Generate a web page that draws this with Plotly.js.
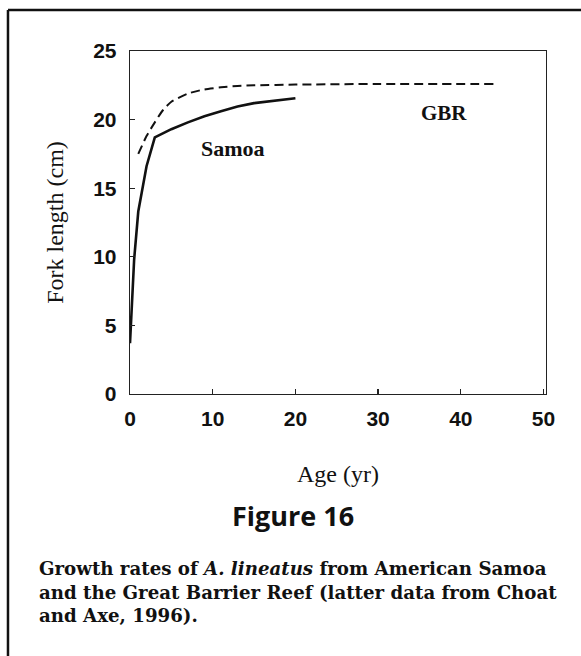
<!DOCTYPE html>
<html>
<head>
<meta charset="utf-8">
<script src="https://cdn.plot.ly/plotly-3.0.1.min.js"></script>
<style>
  html, body { margin: 0; padding: 0; background: #fff; }
  #chart { width: 581px; height: 656px; }
</style>
</head>
<body>
<div id="chart"></div>
<script>
// Samoa growth curve (solid)
const samoaAge = [0, 0.5, 1, 2, 3, 5, 7, 9, 11, 13, 15, 17.5, 20];
const samoaLen = [3.7, 9.8, 13.3, 16.6, 18.7, 19.3, 19.8, 20.25, 20.6, 20.95, 21.2, 21.4, 21.55];
// Great Barrier Reef growth curve (dashed)
const gbrAge = [1, 2, 3, 4, 5, 7, 9, 11, 13, 15, 20, 30, 44];
const gbrLen = [17.5, 18.8, 19.8, 20.7, 21.3, 21.9, 22.2, 22.35, 22.45, 22.5, 22.55, 22.6, 22.6];
// Axis ticks
const xTicks = [0, 10, 20, 30, 40, 50];
const yTicks = [0, 5, 10, 15, 20, 25];
// Text
const seriesLabels = ["Samoa", "GBR"];
const labelPos = [[12.4, 17.9], [38.0, 20.45]];
const figTitle = "Figure 16";
const captionLines = [
  "Growth rates of <i>A. lineatus</i> from American Samoa",
  "and the Great Barrier Reef (latter data from Choat",
  "and Axe, 1996)."
];

const traces = [
  { x: samoaAge, y: samoaLen, type: 'scatter', mode: 'lines', name: 'Samoa',
    line: { color: '#111', width: 2.6, shape: 'linear' } },
  { x: gbrAge, y: gbrLen, type: 'scatter', mode: 'lines', name: 'GBR',
    line: { color: '#111', width: 2, dash: '9px,5px', shape: 'spline', smoothing: 0.6 } }
];

const serif = '"Liberation Serif", "Times New Roman", serif';
const axisCommon = {
  showgrid: false, zeroline: false, showline: true, mirror: true,
  linecolor: '#222', linewidth: 1.3,
  ticks: 'inside', ticklen: 5, tickwidth: 1.3, tickcolor: '#222',
  tickfont: { family: '"Liberation Sans", Arial, sans-serif', size: 21, color: '#111', weight: 'bold' },
  automargin: false, fixedrange: true
};

const annotations = [
  { x: labelPos[0][0], y: labelPos[0][1], xref: 'x', yref: 'y', text: seriesLabels[0], showarrow: false,
    font: { family: serif, size: 22, color: '#111', weight: 'bold' } },
  { x: labelPos[1][0], y: labelPos[1][1], xref: 'x', yref: 'y', text: seriesLabels[1], showarrow: false,
    font: { family: serif, size: 21, color: '#111', weight: 'bold' } },
  { x: 0.393, y: -0.3537, xref: 'paper', yref: 'paper', xanchor: 'center', yanchor: 'middle',
    text: '<b>' + figTitle + '</b>', showarrow: false,
    font: { family: '"Open Sans", "Liberation Sans", sans-serif', size: 27, color: '#111' } },
  { x: -0.2236, y: -0.4710, xref: 'paper', yref: 'paper', xanchor: 'left', yanchor: 'top', align: 'left',
    text: captionLines.join('<br>'), showarrow: false,
    font: { family: '"DejaVu Serif", serif', size: 18.2, color: '#111', weight: 'bold' } }
];

const shapes = [
  // figure frame: top and left edges
  { type: 'line', xref: 'paper', yref: 'paper', x0: -0.2933, x1: 1.12, y0: 1.1194, y1: 1.1194,
    line: { color: '#111', width: 2.5 } },
  { type: 'line', xref: 'paper', yref: 'paper', x0: -0.2933, x1: -0.2933, y0: 1.1194, y1: -0.78,
    line: { color: '#111', width: 2.5 } }
];

const layout = {
  width: 581, height: 656,
  margin: { l: 130, r: 35, t: 51, b: 261.5, pad: 0 },
  paper_bgcolor: '#fff', plot_bgcolor: '#fff',
  showlegend: false,
  xaxis: Object.assign({}, axisCommon, {
    range: [0, 50.3], tickvals: xTicks, ticktext: xTicks.map(String), ticklabelstandoff: 5,
    title: { text: 'Age (yr)', standoff: 36, font: { family: serif, size: 24, color: '#111' } }
  }),
  yaxis: Object.assign({}, axisCommon, {
    range: [0, 25], tickvals: yTicks, ticktext: yTicks.map(String), ticklabelstandoff: 8,
    title: { text: 'Fork length (cm)', standoff: 22, font: { family: serif, size: 24, color: '#111' } }
  }),
  annotations: annotations,
  shapes: shapes
};

Plotly.newPlot('chart', traces, layout, { staticPlot: true, displayModeBar: false });
</script>
</body>
</html>
